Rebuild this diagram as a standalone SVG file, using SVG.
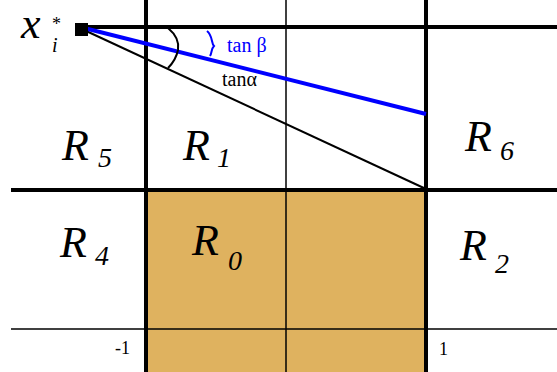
<svg xmlns="http://www.w3.org/2000/svg" width="557" height="372" viewBox="0 0 557 372">
<style>
.ser{font-family:"Liberation Serif","Times New Roman","DejaVu Serif",serif}
.R{font-family:"Liberation Serif","Times New Roman","DejaVu Serif",serif;font-style:italic;font-size:44px;fill:#000}
.s{font-family:"Liberation Serif","Times New Roman","DejaVu Serif",serif;font-style:italic;font-size:28px;fill:#000}
.n{font-family:"Liberation Serif","Times New Roman","DejaVu Serif",serif;font-size:18px;fill:#000}
.thick{stroke:#000;stroke-width:4;fill:none}
.thin{stroke:#000;stroke-width:1.5;fill:none}
</style>
<rect x="0" y="0" width="557" height="372" fill="#fff"/>
<g id="region-R0-fill">
<rect x="146" y="190" width="280" height="182" fill="#DFB25F"/>
</g>
<g id="grid">
<line class="thin" x1="286" y1="0" x2="286" y2="372"/>
<line class="thin" x1="11" y1="329" x2="557" y2="329"/>
<line class="thick" x1="146" y1="0" x2="146" y2="372"/>
<line class="thick" x1="426" y1="0" x2="426" y2="372"/>
<line class="thick" x1="85" y1="27" x2="557" y2="27"/>
<line class="thick" x1="11" y1="190" x2="557" y2="190"/>
</g>
<g id="connectors">
<line x1="84" y1="30" x2="426" y2="189" stroke="#000" stroke-width="2"/>
<line x1="84" y1="28" x2="426" y2="114" stroke="#0000FF" stroke-width="4"/>
<path d="M168,28 Q180,38 178,50 Q176,60 168,68" stroke="#000" stroke-width="2" fill="none"/>
<path d="M207,31 C213,36 211,43 214,46 C211,49 212,53 210,56" stroke="#0000FF" stroke-width="2" fill="none"/>
</g>
<g id="point-x">
<rect x="75" y="23" width="13" height="13" fill="#000"/>
<text class="ser" x="21" y="38" font-style="italic" font-size="44">x</text>
<text class="ser" x="52" y="30" font-size="18">*</text>
<text class="ser" x="52" y="52" font-style="italic" font-size="20">i</text>
</g>
<g id="label-tanb">
<text class="ser" x="227" y="52" font-size="20" fill="#0000FF">tan β</text>
</g>
<g id="label-tana">
<text class="ser" x="222" y="86" font-size="20" fill="#000">tanα</text>
</g>
<g id="R5"><text class="R" x="62" y="160">R</text><text class="s" x="98" y="167">5</text></g>
<g id="R1"><text class="R" x="183" y="160">R</text><text class="s" x="217" y="167">1</text></g>
<g id="R6"><text class="R" x="465" y="151">R</text><text class="s" x="500" y="160">6</text></g>
<g id="R4"><text class="R" x="60" y="257">R</text><text class="s" x="95" y="265">4</text></g>
<g id="R0"><text class="R" x="192" y="255">R</text><text class="s" x="228" y="270">0</text></g>
<g id="R2"><text class="R" x="460" y="260">R</text><text class="s" x="495" y="273">2</text></g>
<g id="ticks">
<text class="n" x="115" y="354">-1</text>
<text class="n" x="439" y="355">1</text>
</g>
</svg>
